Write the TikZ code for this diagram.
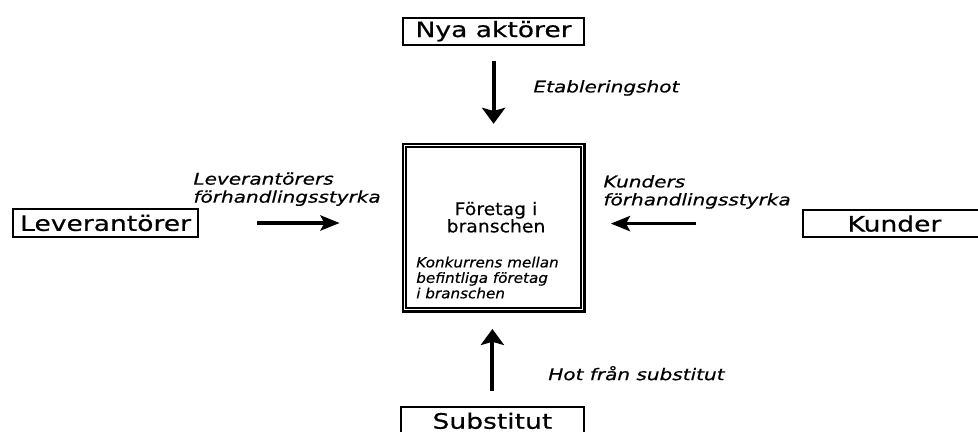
\documentclass[tikz,border=0pt]{standalone}
\usepackage{fontspec}
\setmainfont{DejaVu Sans}[FakeStretch=1.25, FakeBold=0.5]
\newfontfamily\firmfont{DejaVu Sans}[FakeStretch=1.08, FakeBold=0.4]
\usetikzlibrary{arrows.meta}

\tikzset{
  actor/.style={rectangle, draw, line width=1.4pt, inner sep=0pt, minimum height=0.68cm, font=\fontsize{15.1}{17}\selectfont},
  vforce/.style={line width=2.8pt, -{Stealth[length=0.4cm, width=0.58cm, inset=0.08cm]}},
  hforce/.style={line width=2.4pt, -{Stealth[length=0.48cm, width=0.38cm, inset=0.1cm]}},
  forcelabel/.style={font=\fontsize{11.4}{12.8}\selectfont\itshape, align=left, inner sep=0pt},
}

\begin{document}
\begin{tikzpicture}
    \useasboundingbox (0,0) rectangle (24.45,-10.8);
    \clip (0,0) rectangle (24.45,-10.8);

    % 業界の中心（二重枠）
    \node[rectangle, draw, line width=2pt, minimum width=4.53cm, minimum height=4.18cm] (firm) at (12.34,-5.69) {};
    \draw[line width=1.1pt] ([shift={(0.11,-0.11)}]firm.north west) rectangle ([shift={(-0.11,0.11)}]firm.south east);
    \node[font=\firmfont\fontsize{12.4}{12.3}\selectfont, align=center, inner sep=0pt] (firmname) at (12.4,-5.43) {Företag i\\branschen};
    \node[font=\firmfont\fontsize{10}{11}\selectfont\itshape, align=left, anchor=west, inner sep=0pt] (rivalry) at (10.4,-6.94) {Konkurrens mellan\\befintliga företag\\i branschen};

    % 周りの四つの枠
    \node[actor, minimum width=4.53cm] (nya) at (12.34,-0.78) {Nya aktörer};
    \node[actor, minimum width=4.63cm] (lev) at (2.64,-5.575) {Leverantörer};
    \node[actor, minimum width=4.58cm] (kund) at (22.36,-5.59) {Kunder};
    \node[actor, minimum width=4.58cm] (subst) at (12.31,-10.52) {Substitut};

    % 矢印
    \draw[vforce, shorten <=0.38cm, shorten >=0.47cm] (nya) -- (firm);
    \draw[hforce, shorten <=1.45cm, shorten >=1.55cm] (lev.east) -- (lev.east -| firm.west);
    \draw[hforce, shorten <=2.65cm, shorten >=0.63cm] (kund.west) -- (kund.west -| firm.east);
    \draw[vforce, shorten <=0.38cm, shorten >=0.41cm] (subst.north) -- (subst.north |- firm.south);

    % 矢印のラベル
    \node[forcelabel, anchor=west] (entry) at (13.33,-2.2) {Etableringshot};
    \node[forcelabel, anchor=west] (levpower) at (4.83,-4.73) {Leverantörers\\förhandlingsstyrka};
    \node[forcelabel, anchor=west] (kundpower) at (15.08,-4.8) {Kunders\\förhandlingsstyrka};
    \node[forcelabel, anchor=west] (threat) at (13.7,-9.33) {Hot från substitut};

  \end{tikzpicture}
\end{document}
